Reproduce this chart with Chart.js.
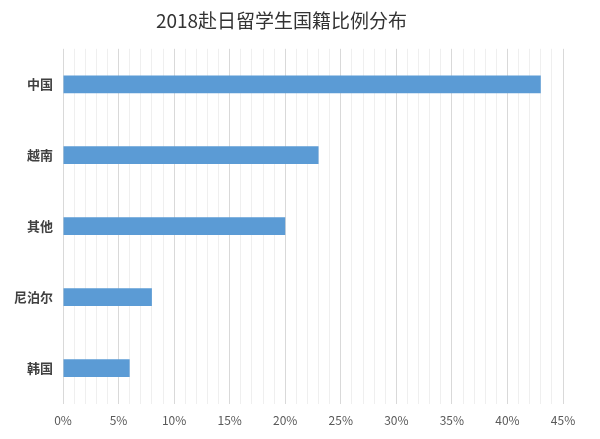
<!DOCTYPE html>
<html>
<head>
<meta charset="utf-8">
<script src="https://cdn.jsdelivr.net/npm/chart.js@4.4.1/dist/chart.umd.min.js"></script>
<style>
  html, body { margin: 0; padding: 0; background: #ffffff; }
  #wrap { width: 600px; height: 439px; position: relative; }
</style>
</head>
<body>
<div id="wrap"><canvas id="nationChart"></canvas></div>
<script>
const countries = ['中国', '越南', '其他', '尼泊尔', '韩国'];
const shares = [43, 23, 20, 8, 6];
const xMax = 45;

const fontFamily = '"Noto Sans CJK SC", "Noto Sans", sans-serif';

const ctx = document.getElementById('nationChart').getContext('2d');

const config = {
  type: 'bar',
  data: {
    labels: countries,
    datasets: [{
      label: '比例',
      data: shares,
      backgroundColor: '#5b9bd5',
      borderWidth: 0,
      categoryPercentage: 1,
      barPercentage: 0.25
    }]
  },
  options: {
    indexAxis: 'y',
    responsive: true,
    maintainAspectRatio: false,
    animation: false,
    layout: { padding: { top: 0, right: 37, bottom: 1, left: 0 } },
    scales: {
      x: {
        min: 0,
        max: xMax,
        border: { display: false },
        grid: {
          drawTicks: false,
          color: (c) => (c.tick && c.tick.value % 5 === 0) ? '#d9d9d9' : '#efefef',
          lineWidth: 1
        },
        ticks: {
          stepSize: 1,
          autoSkip: false,
          maxTicksLimit: 100,
          maxRotation: 0,
          padding: 10,
          color: '#595959',
          font: { family: fontFamily, size: 12 },
          callback: (v) => (v % 5 === 0 ? v + '%' : '')
        }
      },
      y: {
        border: { display: false },
        grid: { display: false, drawTicks: false },
        ticks: {
          padding: 10,
          color: '#404040',
          font: { family: fontFamily, size: 13, weight: 'bold' }
        },
        afterFit: (scale) => { scale.width = 63; }
      }
    },
    plugins: {
      legend: { display: false },
      tooltip: { enabled: false },
      title: {
        display: true,
        text: '2018赴日留学生国籍比例分布',
        color: '#333333',
        font: { family: fontFamily, size: 19, weight: 'normal' },
        padding: { top: 9, bottom: 17 }
      }
    }
  }
};

new Chart(ctx, config);
</script>
</body>
</html>
